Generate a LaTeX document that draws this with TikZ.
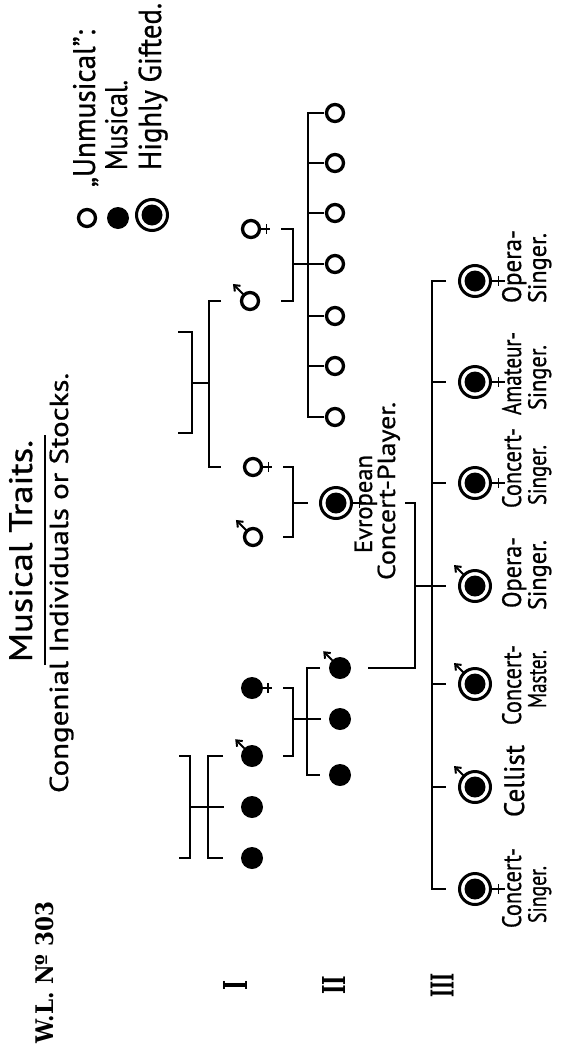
\documentclass[tikz,border=0pt]{standalone}
\usepackage{graphicx}
\usepackage{fontspec}
\setmainfont{PT Sans}[FakeBold=0.8]
\newfontfamily\slab{DejaVu Serif}
\usetikzlibrary{arrows.meta,calc}
\newcommand\fitw[3]{\resizebox{#1pt}{#2pt}{#3}}
\newcommand\malesym[2]{\draw[malearrow] (#1.north west) -- ++(-#2,-#2);}
\newcommand\femsym[3]{\draw[sexmark] (#1.east) -- ++(#2,0) (#1.east) ++(#3,-5) -- ++(0,10);}
\begin{document}
\begin{tikzpicture}[x=1pt,y=-1pt,
  openc/.style={circle,draw,line width=3.3pt,minimum size=17pt,inner sep=0pt,outer sep=0pt},
  filled/.style={circle,fill,minimum size=22pt,inner sep=0pt,outer sep=0pt},
  gifted/.style={circle,draw,line width=3pt,minimum size=31pt,inner sep=0pt,outer sep=0pt,
    path picture={\fill (path picture bounding box.center) circle[radius=10.5pt];}},
  brk/.style={line width=2.1pt},
  stem/.style={line width=2.8pt},
  malearrow/.style={line width=2pt,-{Straight Barb[length=5pt,width=8pt,line width=2pt]}},
  sexmark/.style={line width=1.8pt},
  lbl/.style={rotate=90,anchor=base west,inner sep=0pt,outer sep=0pt}
]
\useasboundingbox (0,0) rectangle (561,1047);

% ---------------- titles ----------------
\node[lbl] (title) at (32,662) {\fitw{222}{23}{Musical Traits.}};
\draw[line width=2pt] (45,665) -- (45,435);
\node[lbl] (sub) at (68,793) {\fitw{420}{18.5}{Congenial Individuals or Stocks.}};
\node[lbl] (wl) at (53,1043) {\fitw{141}{18}{\slab\bfseries W.L. Nº 303}};
\node[rotate=90,inner sep=0pt] (r1) at (235,985) {\fitw{10}{24}{\slab\bfseries I}};
\node[rotate=90,inner sep=0pt] (r2) at (334,985) {\fitw{19}{23}{\slab\bfseries II}};
\node[rotate=90,inner sep=0pt] (r3) at (442,985) {\fitw{24}{23}{\slab\bfseries III}};

% ---------------- legend ----------------
\node[openc] (lu) at (87,218) {};
\node[filled] (lm) at (118,218) {};
\node[gifted] (lg) at (152,215) {};
\node[lbl] (tu) at (95,187) {\fitw{157}{22}{„Unmusical”:}};
\node[lbl] (tm) at (127,170) {\fitw{90}{22}{Musical.}};
\node[lbl] (tg) at (161,170) {\fitw{167}{22.5}{Highly Gifted.}};

% ---------------- generation I (top) ----------------
\node[openc] (fa) at (251,229) {};
\node[openc] (ma) at (250,301) {};
\node[openc] (fc) at (253,467) {};
\node[openc] (mc) at (253,537) {};
\femsym{fa}{10}{7}
\malesym{ma}{11}
\femsym{fc}{10}{7}
\malesym{mc}{11}

% ---------------- unmusical children ----------------
\foreach \i/\y in {1/113,2/163,3/213,4/264,5/316,6/366,7/417}
  \node[openc] (u\i) at (335,\y) {};
\coordinate (vU) at (308,0);
\draw[stem] ([xshift=-3pt]u1.west) -- (vU |- u1) -- (vU |- u7) -- ([xshift=-3pt]u7.west);
\foreach \i in {2,...,6}
  \draw[brk] (vU |- u\i) -- ([xshift=-3pt]u\i.west);

% bracket A: parents of the unmusical children
\coordinate (tA) at (281,0);
\coordinate (bA) at (293,0);
\coordinate (tC) at (283,0);
\draw[brk] (tA |- fa) -- (bA |- fa) -- (bA |- ma) -- (tA |- ma);
\draw[brk] (bA |- u4) -- (vU |- u4);

% European concert player
\node[gifted] (cp) at (336,503) {};
\femsym{cp}{14}{8}
\draw[brk] (tC |- fc) -- (bA |- fc) -- (bA |- mc) -- (tC |- mc);
\draw[brk] (bA |- cp) -- (vU |- cp);
\node[lbl] (cp1) at (372,553) {\fitw{98}{17.5}{Evropean}};
\node[lbl] (cp2) at (395,580) {\fitw{178}{17.5}{Concert-Player.}};

% bracket B: siblings ma and fc
\coordinate (sB) at (209,0);
\coordinate (sBr) at (221,0);
\draw[brk] (sBr |- ma) -- (sB |- ma) -- (sB |- fc) -- (sBr |- fc);
\coordinate (oB1) at (192,332);
\coordinate (oB2) at (192,433);
\coordinate (hB) at (192,383);
\draw[brk] ([xshift=-14pt]oB1) -- (oB1) -- (oB2) -- ([xshift=-14pt]oB2);
\draw[brk] (hB) -- (sB |- hB);

% ---------------- generation I (bottom) ----------------
\node[filled] (f1) at (252,688) {};
\node[filled] (m1) at (252,756) {};
\node[filled] (s2) at (252,807) {};
\node[filled] (s3) at (252,858) {};
\femsym{f1}{9}{5}
\malesym{m1}{9}
\coordinate (iD) at (208,0);
\coordinate (iDr) at (223,0);
\coordinate (oD) at (190,0);
\coordinate (oDl) at (179,0);
\draw[brk] (iDr |- m1) -- (iD |- m1) -- (iD |- s3) -- (iDr |- s3);
\draw[brk] (oDl |- m1) -- (oD |- m1) -- (oD |- s3) -- (oDl |- s3);
\draw[brk] (oD |- s2) -- ([xshift=1pt]iDr |- s2);

% ---------------- generation II ----------------
\node[filled] (g2a) at (340,668) {};
\node[filled] (g2b) at (340,719) {};
\node[filled] (g2c) at (340,775) {};
\malesym{g2a}{9}
\coordinate (vE) at (307,0);
\coordinate (vEr) at (320,0);
\draw[brk] (tC |- f1) -- (bA |- f1) -- (bA |- m1) -- (tC |- m1);
\draw[brk] (bA |- g2b) -- ([xshift=1pt]vEr |- g2b);
\draw[brk] (vEr |- g2a) -- (vE |- g2a) -- (vE |- g2c) -- (vEr |- g2c);

% ---------------- generation III ----------------
\foreach \n/\y in {a/281,b/382,c/483,d/586,e/684,f/787,g/889}
  \node[gifted] (g3\n) at (475,\y) {};
\femsym{g3a}{14}{8}
\femsym{g3b}{14}{8}
\femsym{g3c}{14}{8}
\femsym{g3g}{14}{8}
\malesym{g3d}{10}
\malesym{g3e}{10}
\malesym{g3f}{10}
\coordinate (vG) at (432,0);
\coordinate (tG) at (446,0);
\draw[stem] (tG |- g3a) -- (vG |- g3a) -- (vG |- g3g) -- (tG |- g3g);
\foreach \n in {b,c,d,e,f}
  \draw[brk] (vG |- g3\n) -- (tG |- g3\n);

% bracket F: marriage of g2a and cp
\coordinate (vF) at (415,0);
\coordinate (vFl) at (405,0);
\draw[brk] ([xshift=17pt]g2a.east) -- (vF |- g2a) -- (vF |- cp) -- (vFl |- cp);
\draw[brk] (vF |- g3d) -- (tG |- g3d);

% labels of generation III
\node[lbl] (la1) at (521,303) {\fitw{73}{19}{Opera-}};
\node[lbl] (la2) at (546,303) {\fitw{70}{18}{Singer.}};
\node[lbl] (lb1) at (521,415) {\fitw{83}{19}{Amateur-}};
\node[lbl] (lb2) at (546,410) {\fitw{65}{18}{Singer.}};
\node[lbl] (lc1) at (521,508) {\fitw{80}{19}{Concert-}};
\node[lbl] (lc2) at (546,505) {\fitw{60}{18}{Singer.}};
\node[lbl] (ld1) at (521,608) {\fitw{71}{19}{Opera-}};
\node[lbl] (ld2) at (546,610) {\fitw{70}{18}{Singer.}};
\node[lbl] (le1) at (521,725) {\fitw{80}{19}{Concert-}};
\node[lbl] (le2) at (546,708) {\fitw{58}{18}{Master.}};
\node[lbl] (lf1) at (524,817) {\fitw{72}{20}{Cellist}};
\node[lbl] (lg1) at (521,928) {\fitw{80}{19}{Concert-}};
\node[lbl] (lg2) at (546,923) {\fitw{57}{18}{Singer.}};
\end{tikzpicture}
\end{document}
